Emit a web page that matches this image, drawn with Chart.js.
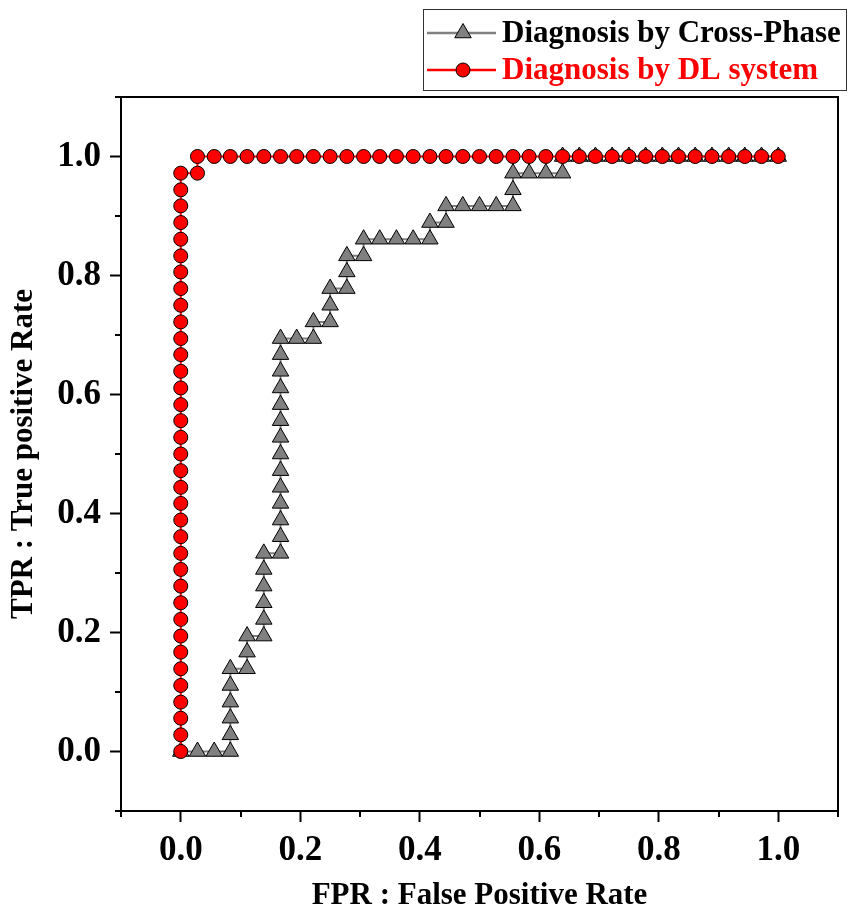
<!DOCTYPE html>
<html>
<head>
<meta charset="utf-8">
<script src="https://cdn.jsdelivr.net/npm/chart.js@4.4.0/dist/chart.umd.min.js"></script>
<style>
  body { margin: 0; background: #fff; }
  #wrap { width: 849px; height: 911px; }
</style>
</head>
<body>
<div id="wrap"><canvas id="roc" width="849" height="911"></canvas></div>
<script>
// ROC points (step of 1/36 on both axes)
const crossFPR = [0, 0.028, 0.056, 0.083, 0.083, 0.083, 0.083, 0.083, 0.083, 0.111, 0.111, 0.111,
  0.139, 0.139, 0.139, 0.139, 0.139, 0.139,
  0.167, 0.167, 0.167, 0.167, 0.167, 0.167, 0.167, 0.167, 0.167, 0.167, 0.167, 0.167, 0.167, 0.167,
  0.194, 0.222, 0.222, 0.250, 0.250, 0.250, 0.278, 0.278, 0.278, 0.306, 0.306,
  0.333, 0.361, 0.389, 0.417, 0.417, 0.444, 0.444, 0.472, 0.500, 0.528, 0.556, 0.556, 0.556,
  0.583, 0.611, 0.639, 0.639,
  0.667, 0.694, 0.722, 0.750, 0.778, 0.806, 0.833, 0.861, 0.889, 0.917, 0.944, 0.972, 1.0];
const crossTPR = [0, 0, 0, 0, 0.028, 0.056, 0.083, 0.111, 0.139, 0.139, 0.167, 0.194,
  0.194, 0.222, 0.250, 0.278, 0.306, 0.333,
  0.333, 0.361, 0.389, 0.417, 0.444, 0.472, 0.500, 0.528, 0.556, 0.583, 0.611, 0.639, 0.667, 0.694,
  0.694, 0.694, 0.722, 0.722, 0.750, 0.778, 0.778, 0.806, 0.833, 0.833, 0.861,
  0.861, 0.861, 0.861, 0.861, 0.889, 0.889, 0.917, 0.917, 0.917, 0.917, 0.917, 0.944, 0.972,
  0.972, 0.972, 0.972, 1.0,
  1.0, 1.0, 1.0, 1.0, 1.0, 1.0, 1.0, 1.0, 1.0, 1.0, 1.0, 1.0, 1.0];

const dlFPR = [0, 0, 0, 0, 0, 0, 0, 0, 0, 0, 0, 0, 0, 0, 0, 0, 0, 0,
  0, 0, 0, 0, 0, 0, 0, 0, 0, 0, 0, 0, 0, 0, 0, 0, 0, 0,
  0.028, 0.028,
  0.056, 0.083, 0.111, 0.139, 0.167, 0.194, 0.222, 0.250, 0.278, 0.306, 0.333, 0.361,
  0.389, 0.417, 0.444, 0.472, 0.500, 0.528, 0.556, 0.583, 0.611, 0.639, 0.667, 0.694,
  0.722, 0.750, 0.778, 0.806, 0.833, 0.861, 0.889, 0.917, 0.944, 0.972, 1.0];
const dlTPR = [0, 0.028, 0.056, 0.083, 0.111, 0.139, 0.167, 0.194, 0.222, 0.250, 0.278, 0.306,
  0.333, 0.361, 0.389, 0.417, 0.444, 0.472, 0.500, 0.528, 0.556, 0.583, 0.611, 0.639,
  0.667, 0.694, 0.722, 0.750, 0.778, 0.806, 0.833, 0.861, 0.889, 0.917, 0.944, 0.972,
  0.972, 1.0,
  1.0, 1.0, 1.0, 1.0, 1.0, 1.0, 1.0, 1.0, 1.0, 1.0, 1.0, 1.0,
  1.0, 1.0, 1.0, 1.0, 1.0, 1.0, 1.0, 1.0, 1.0, 1.0, 1.0, 1.0,
  1.0, 1.0, 1.0, 1.0, 1.0, 1.0, 1.0, 1.0, 1.0, 1.0, 1.0];

const seriesNames = ["Diagnosis by Cross-Phase", "Diagnosis by DL system"];
const axisMin = -0.1, axisMax = 1.1, tickStep = 0.1;

const serif = '"Liberation Serif", "Times New Roman", serif';
const GRAY = "#808080";
const RED = "#ff0000";

function toPoints(xs, ys) {
  return xs.map((x, i) => ({ x: x, y: ys[i] }));
}

function isMajor(v) {
  const k = Math.round(v * 10);
  return k >= 0 && k <= 10 && k % 2 === 0;
}

const tickFont = { family: serif, size: 35, weight: "bold" };
const titleFont = { family: serif, size: 31, weight: "bold", lineHeight: 1 };

function axisOpts(title, padTick) {
  return {
    type: "linear",
    min: axisMin,
    max: axisMax,
    border: { display: true, color: "#000", width: 2 },
    grid: {
      drawOnChartArea: false,
      drawTicks: true,
      tickLength: 11,
      tickWidth: 2,
      tickColor: (c) => (c.tick && isMajor(c.tick.value) ? "#000" : "rgba(0,0,0,0)"),
    },
    ticks: {
      stepSize: tickStep,
      maxTicksLimit: 30,
      autoSkip: false,
      maxRotation: 0,
      padding: padTick,
      color: "#000",
      font: tickFont,
      callback: (v) => (isMajor(v) ? Number(v).toFixed(1) : ""),
    },
    title: { display: true, text: title, color: "#000", font: titleFont, padding: 0 },
  };
}

// frame on top/right, short minor ticks and the boxed legend
const extras = {
  id: "extras",
  afterDraw(chart) {
    const ctx = chart.ctx;
    const a = chart.chartArea;
    const sx = chart.scales.x, sy = chart.scales.y;
    ctx.save();
    ctx.strokeStyle = "#000";
    ctx.lineWidth = 2;
    ctx.beginPath();
    ctx.moveTo(a.left - 1, a.top);
    ctx.lineTo(a.right, a.top);
    ctx.lineTo(a.right, a.bottom + 1);
    ctx.stroke();

    ctx.beginPath();
    sx.ticks.forEach((t) => {
      if (isMajor(t.value)) return;
      const px = Math.round(sx.getPixelForValue(t.value));
      ctx.moveTo(px, a.bottom);
      ctx.lineTo(px, a.bottom + 6);
    });
    sy.ticks.forEach((t) => {
      if (isMajor(t.value)) return;
      const py = Math.round(sy.getPixelForValue(t.value));
      ctx.moveTo(a.left, py);
      ctx.lineTo(a.left - 6, py);
    });
    ctx.stroke();

    // legend box
    ctx.lineWidth = 1;
    ctx.strokeStyle = "#333";
    ctx.strokeRect(423.5, 9.5, 423, 81);

    const rows = [
      { y: 33, base: 42, color: GRAY, text: "#000", marker: "triangle" },
      { y: 70, base: 79, color: RED, text: RED, marker: "circle" },
    ];
    rows.forEach((r, i) => {
      ctx.strokeStyle = r.color;
      ctx.lineWidth = 2.5;
      ctx.beginPath();
      ctx.moveTo(427, r.y);
      ctx.lineTo(496, r.y);
      ctx.stroke();
      ctx.fillStyle = r.color;
      ctx.strokeStyle = "#000";
      ctx.lineWidth = 1;
      ctx.beginPath();
      if (r.marker === "triangle") {
        const rad = 9.5;
        ctx.moveTo(463, r.y - rad);
        ctx.lineTo(463 + rad * 0.866, r.y + rad / 2);
        ctx.lineTo(463 - rad * 0.866, r.y + rad / 2);
        ctx.closePath();
      } else {
        ctx.arc(463, r.y, 7, 0, Math.PI * 2);
      }
      ctx.fill();
      ctx.stroke();
      ctx.fillStyle = r.text;
      ctx.font = "bold 31px " + serif;
      ctx.textAlign = "left";
      ctx.textBaseline = "alphabetic";
      ctx.fillText(seriesNames[i], 502, r.base);
    });
    ctx.restore();
  },
};

const xAxis = axisOpts("FPR : False Positive Rate", 8);
xAxis.afterFit = (s) => { s.height = 100; };
const yAxis = axisOpts("TPR : True positive Rate", 9);
yAxis.title.padding = { top: 8, bottom: 0 };
yAxis.afterFit = (s) => { s.width = 121; };

new Chart(document.getElementById("roc").getContext("2d"), {
  type: "scatter",
  data: {
    datasets: [
      {
        label: seriesNames[0],
        data: toPoints(crossFPR, crossTPR),
        showLine: true,
        borderColor: GRAY,
        borderWidth: 2,
        pointStyle: "triangle",
        pointRadius: 9.5,
        pointBackgroundColor: GRAY,
        pointBorderColor: "#000",
        pointBorderWidth: 1,
        order: 1,
      },
      {
        label: seriesNames[1],
        data: toPoints(dlFPR, dlTPR),
        showLine: true,
        borderColor: RED,
        borderWidth: 2,
        pointStyle: "circle",
        pointRadius: 7,
        pointBackgroundColor: RED,
        pointBorderColor: "#000",
        pointBorderWidth: 1,
        order: 0,
      },
    ],
  },
  options: {
    responsive: false,
    animation: false,
    events: [],
    layout: { padding: { top: 97, right: 11, left: 0, bottom: 0 } },
    plugins: { legend: { display: false }, tooltip: { enabled: false } },
    scales: { x: xAxis, y: yAxis },
  },
  plugins: [extras],
});
</script>
</body>
</html>
